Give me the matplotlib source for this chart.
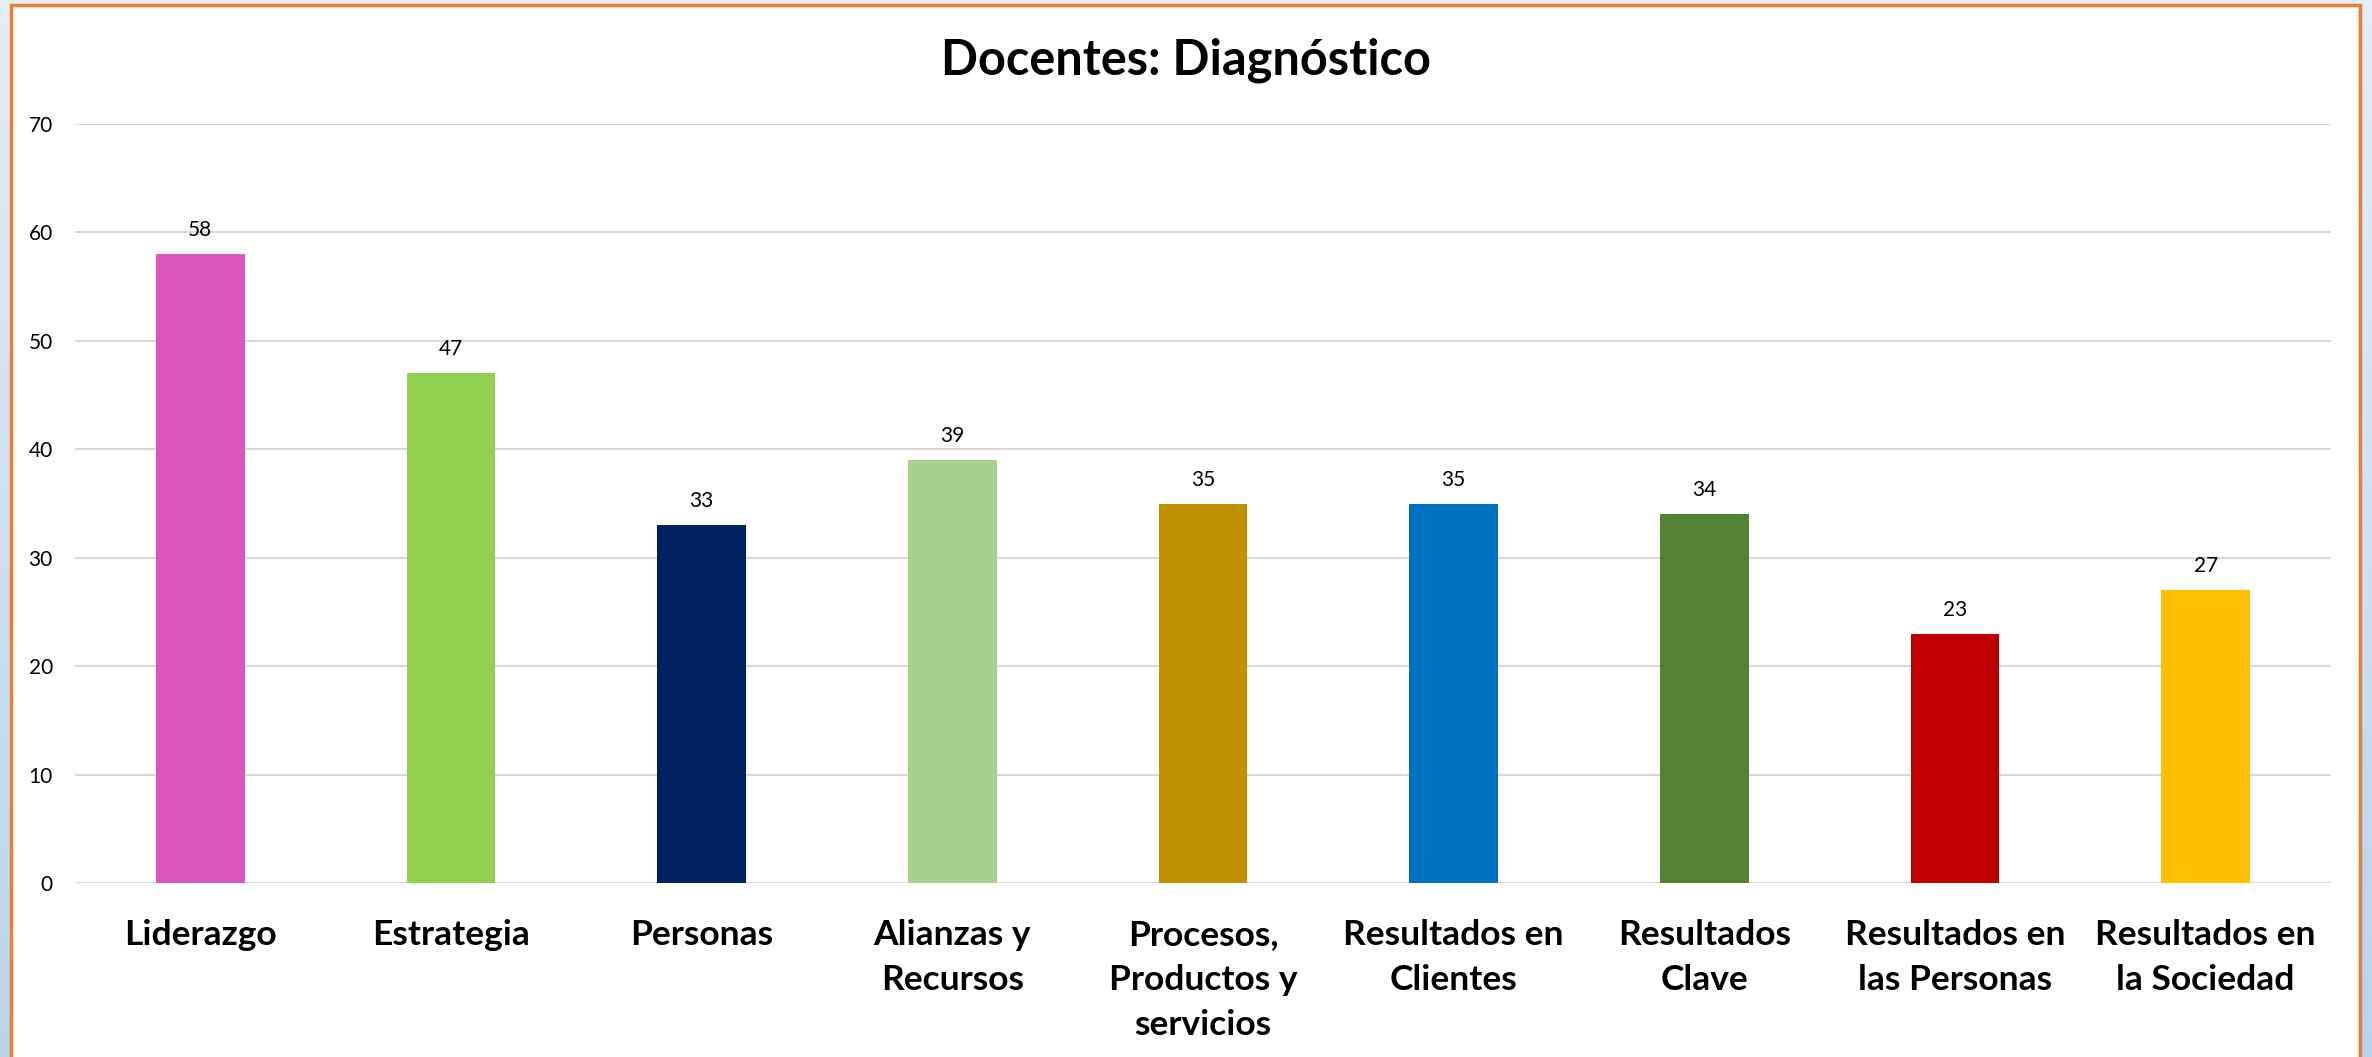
import matplotlib
matplotlib.use("Agg")
import matplotlib.pyplot as plt
import numpy as np
from matplotlib.patches import Rectangle
from matplotlib.colors import LinearSegmentedColormap

categories = ["Liderazgo", "Estrategia", "Personas", "Alianzas y\nRecursos",
              "Procesos,\nProductos y\nservicios", "Resultados en\nClientes",
              "Resultados\nClave", "Resultados en\nlas Personas", "Resultados en\nla Sociedad"]
values = [58, 47, 33, 39, 35, 35, 34, 23, 27]
colors = ["#DC56BE", "#92D050", "#002060", "#A9D18E", "#BF9000",
          "#0070C0", "#548235", "#C00000", "#FFC000"]
yticks = [0, 10, 20, 30, 40, 50, 60, 70]
title = "Docentes: Diagnóstico"

W, H = 2372, 1057
fig = plt.figure(figsize=(W / 100, H / 100), dpi=100)

# background gradient
bg = fig.add_axes([0, 0, 1, 1], zorder=0)
grad = np.linspace(0, 1, 256).reshape(-1, 1)
cmap = LinearSegmentedColormap.from_list("bg", ["#E4EDF8", "#B9D3EE"])
bg.imshow(grad, aspect="auto", cmap=cmap, extent=[0, 1, 0, 1], origin="upper")
bg.set_axis_off()

# white panel with orange border
panel = Rectangle((11 / W, -0.05), (2360 - 11) / W, 1.05 - 5 / H,
                  transform=fig.transFigure, facecolor="white",
                  edgecolor="#ED7D31", linewidth=2.5, zorder=1)
fig.patches.append(panel)

ax = fig.add_axes([75 / W, 174 / H, (2331 - 75) / W, (883 - 124) / H], zorder=2)
ax.set_facecolor("none")
x = np.arange(len(categories))
bars = ax.bar(x, values, width=0.355, color=colors, zorder=3)
ax.set_xlim(-0.5, len(categories) - 0.5)
ax.set_ylim(0, 70)
ax.set_yticks(yticks)
ax.yaxis.grid(True, color="#D9D9D9", linewidth=1.5, zorder=0)
ax.set_axisbelow(True)
for s in ax.spines.values():
    s.set_visible(False)
ax.tick_params(axis="y", length=0, pad=16, labelsize=15)
ax.tick_params(axis="x", length=0, pad=26)
ax.set_xticks(x)
ax.set_xticklabels(categories, fontsize=25.5, fontweight="bold", linespacing=1.5)
for t in ax.get_yticklabels():
    t.set_fontfamily("Lato")
for t in ax.get_xticklabels():
    t.set_fontfamily("Lato")

ax.bar_label(bars, padding=10, fontsize=15, family="Lato")

fig.text(0.5 * (11 + 2360) / W, 1 - 60 / H, title, ha="center", va="center",
         fontsize=35, fontweight="bold", family="Lato", zorder=3)

fig.savefig("out.png", dpi=100)
